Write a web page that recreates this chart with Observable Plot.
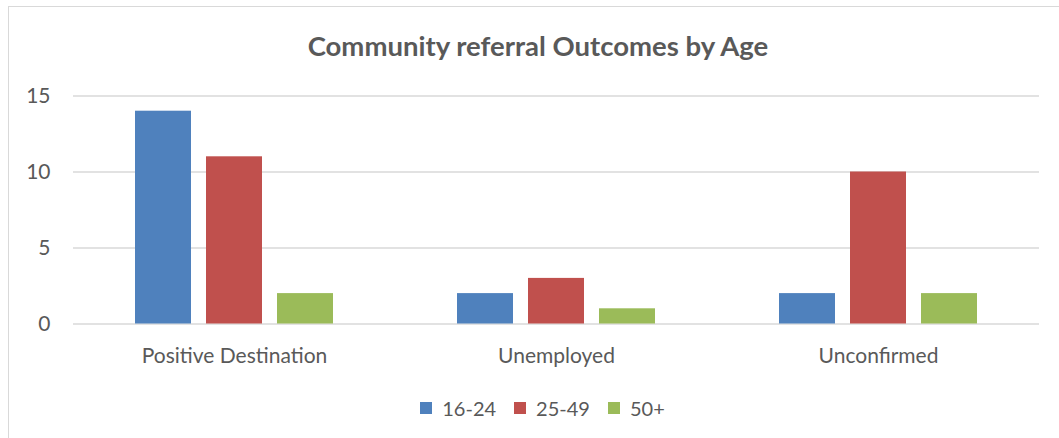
<!DOCTYPE html>
<html><head><meta charset="utf-8">
<script src="https://cdn.jsdelivr.net/npm/d3@7"></script>
<script src="https://cdn.jsdelivr.net/npm/@observablehq/plot@0.6"></script>
<style>
  html,body{margin:0;padding:0;background:#fff;}
  body{width:1059px;height:438px;overflow:hidden;position:relative;font-family:Lato,"Liberation Sans",sans-serif;}
  #frame{position:absolute;left:8px;top:6px;width:1070px;height:460px;border:1.5px solid #d9d9d9;box-sizing:border-box;}
  #title{position:absolute;left:0;top:29px;width:1076px;text-align:center;font-size:27.5px;line-height:33px;font-weight:bold;color:#595959;}
  #chart{position:absolute;left:0;top:0;}
  #legend{position:absolute;left:0;top:396px;width:1085px;display:flex;justify-content:center;gap:18px;font-size:20px;line-height:24px;color:#595959;}
  #legend span.item{display:flex;align-items:center;}
  #legend span.sw{display:inline-block;width:12px;height:12px;margin-right:10px;}
</style></head>
<body>
<div id="frame"></div>
<div id="title">Community referral Outcomes by Age</div>
<div id="chart"></div>
<div id="legend"></div>
<script>
const categories = ["Positive Destination", "Unemployed", "Unconfirmed"];
const series = ["16-24", "25-49", "50+"];
const values16_24 = [14, 2, 2];
const values25_49 = [11, 3, 10];
const values50plus = [2, 1, 2];
const colors = ["#4F81BD", "#C0504D", "#9BBB59"];
const yTicks = [0, 5, 10, 15];

const allValues = [values16_24, values25_49, values50plus];
const data = [];
categories.forEach((c, i) => series.forEach((s, j) => data.push({category: c, series: s, value: allValues[j][i]})));

const plot = Plot.plot({
  width: 1059,
  height: 380,
  marginLeft: 72,
  marginRight: 19,
  marginTop: 95.5,
  marginBottom: 56.5,
  style: {fontFamily: "Lato, 'Liberation Sans', sans-serif", fontSize: "21px", color: "#595959", background: "transparent"},
  fx: {domain: categories, padding: 0, label: null},
  x: {domain: series, axis: null, paddingInner: 0.21, paddingOuter: 0.845},
  y: {domain: [0, 15], ticks: yTicks, label: null},
  color: {domain: series, range: colors},
  marks: [
    Plot.gridY(yTicks, {stroke: "#d9d9d9", strokeOpacity: 1, strokeWidth: 1.5}),
    Plot.barY(data, {fx: "category", x: "series", y: "value", fill: "series"}),
    Plot.axisY(yTicks, {tickSize: 0, tickPadding: 23, label: null, fill: "#595959", fontSize: 21}),
    Plot.axisFx({anchor: "bottom", tickSize: 0, tickPadding: 24, label: null, fill: "#595959", fontSize: 21})
  ]
});
document.getElementById("chart").appendChild(plot);

const legend = document.getElementById("legend");
series.forEach((s, i) => {
  const item = document.createElement("span");
  item.className = "item";
  const sw = document.createElement("span");
  sw.className = "sw";
  sw.style.background = colors[i];
  item.appendChild(sw);
  item.appendChild(document.createTextNode(s));
  legend.appendChild(item);
});
</script>
</body></html>
